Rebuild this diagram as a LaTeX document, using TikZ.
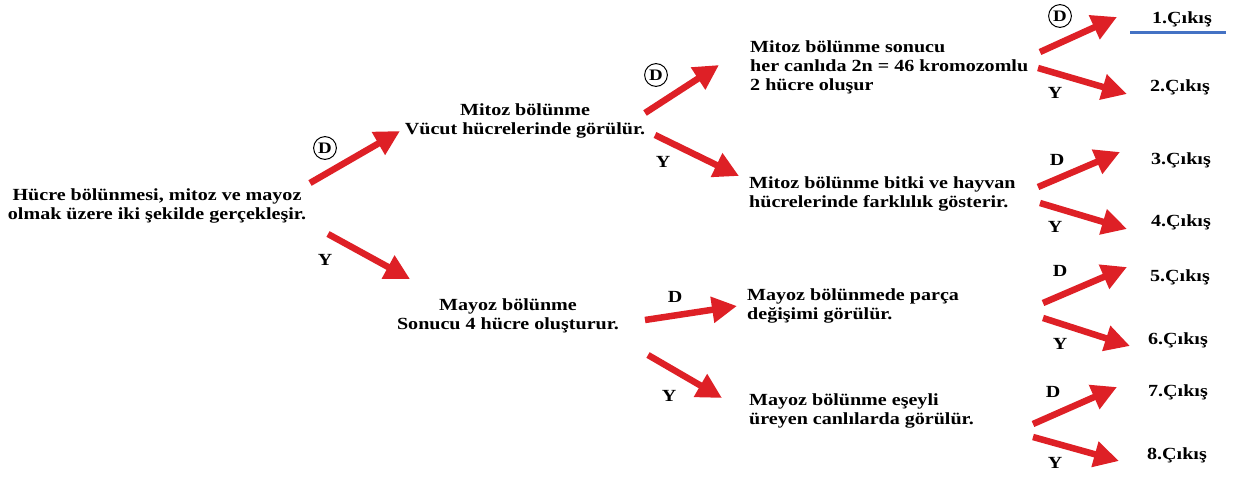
\documentclass[tikz,border=0pt]{standalone}
\usepackage{fontspec}
\setmainfont{Liberation Serif}[FakeStretch=1.18]
\usetikzlibrary{arrows.meta}
\definecolor{arrowred}{RGB}{222,32,38}
\definecolor{lineblue}{RGB}{68,114,196}
\tikzset{
  txt/.style={font=\bfseries\fontsize{17}{19}\selectfont, inner sep=0pt},
  lbl/.style={font=\bfseries\fontsize{17}{18}\selectfont, inner sep=0pt},
  cD/.style={circle, draw, line width=1pt, inner sep=2pt, font=\bfseries\fontsize{16}{16}\selectfont},
  redarrow/.style={draw=arrowred, line width=6.5pt, -{Triangle[length=25pt,width=25pt,fill=arrowred]}}
}
\begin{document}
\begin{tikzpicture}[x=1pt,y=-1pt]
\useasboundingbox (0,0) rectangle (1236,477);
% text nodes
\node[txt, align=center] (root) at (157,206) {Hücre bölünmesi, mitoz ve mayoz\\olmak üzere iki şekilde gerçekleşir.};
\node[txt, align=center] (mitoz) at (525,121) {Mitoz bölünme\\Vücut hücrelerinde görülür.};
\node[txt, align=center] (mayoz) at (508,316) {Mayoz bölünme\\Sonucu 4 hücre oluşturur.};
\node[txt, align=left, anchor=west] (sonuc) at (750,67) {Mitoz bölünme sonucu\\her canlıda 2n = 46 kromozomlu\\2 hücre oluşur};
\node[txt, align=left, anchor=west] (bitki) at (749,194) {Mitoz bölünme bitki ve hayvan\\hücrelerinde farklılık gösterir.};
\node[txt, align=left, anchor=west] (parca) at (747,306) {Mayoz bölünmede parça\\değişimi görülür.};
\node[txt, align=left, anchor=west] (eseyli) at (749,411) {Mayoz bölünme eşeyli\\üreyen canlılarda görülür.};
% outputs
\node[lbl] (o1) at (1182,19) {1.Çıkış};
\node[lbl] (o2) at (1180,87) {2.Çıkış};
\node[lbl] (o3) at (1181,160) {3.Çıkış};
\node[lbl] (o4) at (1181,222) {4.Çıkış};
\node[lbl] (o5) at (1180,277) {5.Çıkış};
\node[lbl] (o6) at (1178,340) {6.Çıkış};
\node[lbl] (o7) at (1178,392) {7.Çıkış};
\node[lbl] (o8) at (1177,455) {8.Çıkış};
% blue underline
\coordinate (u1) at (1130,32);
\coordinate (u2) at (1226,32);
\draw[lineblue, line width=3pt] (u1) -- (u2);
% arrow coordinates
\coordinate (a1s) at (310,183); \coordinate (a1e) at (400,131);
\coordinate (a2s) at (328,234); \coordinate (a2e) at (410,279);
\coordinate (a3s) at (645,113); \coordinate (a3e) at (719,65);
\coordinate (a4s) at (655,135); \coordinate (a4e) at (739,176);
\coordinate (a5s) at (645,320); \coordinate (a5e) at (737,306);
\coordinate (a6s) at (648,355); \coordinate (a6e) at (722,398);
\coordinate (b1s) at (1040,52); \coordinate (b1e) at (1117,17);
\coordinate (b2s) at (1038,68); \coordinate (b2e) at (1127,94);
\coordinate (b3s) at (1038,187); \coordinate (b3e) at (1120,152);
\coordinate (b4s) at (1040,203); \coordinate (b4e) at (1127,229);
\coordinate (b5s) at (1043,303); \coordinate (b5e) at (1127,267);
\coordinate (b6s) at (1043,318); \coordinate (b6e) at (1130,346);
\coordinate (b7s) at (1033,424); \coordinate (b7e) at (1117,387);
\coordinate (b8s) at (1033,437); \coordinate (b8e) at (1119,461);
\foreach \p in {a1,a2,a3,a4,a5,a6,b1,b2,b3,b4,b5,b6,b7,b8}
  \draw[redarrow] (\p s) -- (\p e);
% branch labels
\node[cD] (d1) at (325,148) {D};
\node[lbl] (y1) at (325,260) {Y};
\node[cD] (d2) at (656,75) {D};
\node[lbl] (y2) at (663,162) {Y};
\node[lbl] (d3) at (675,297) {D};
\node[lbl] (y3) at (669,396) {Y};
\node[cD] (d4) at (1060,16) {D};
\node[lbl] (y4) at (1055,93) {Y};
\node[lbl] (d5) at (1057,160) {D};
\node[lbl] (y5) at (1055,227) {Y};
\node[lbl] (d6) at (1060,271) {D};
\node[lbl] (y6) at (1060,344) {Y};
\node[lbl] (d7) at (1053,392) {D};
\node[lbl] (y7) at (1055,463) {Y};
\end{tikzpicture}
\end{document}
